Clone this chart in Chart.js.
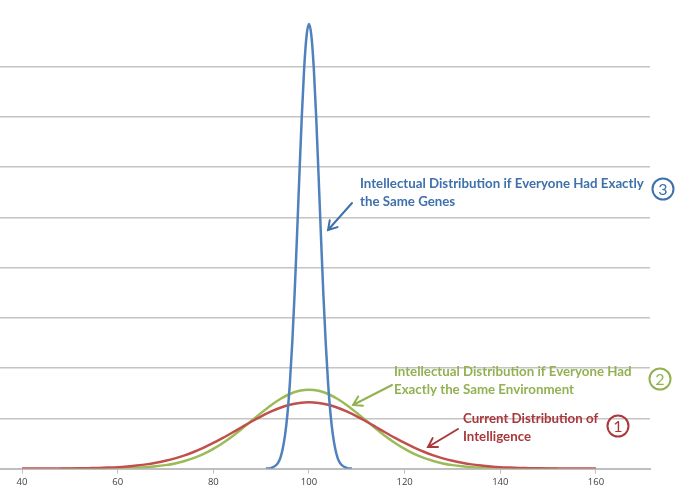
<!DOCTYPE html>
<html>
<head>
<meta charset="utf-8">
<script src="https://cdn.jsdelivr.net/npm/chart.js@4.4.1/dist/chart.umd.min.js"></script>
<style>
  html, body { margin: 0; padding: 0; background: #fff; }
</style>
</head>
<body>
<canvas id="iqChart" width="700" height="502"></canvas>
<script>
// IQ score positions and curve heights (one grid step = 1)
const xTicks = [40, 60, 80, 100, 120, 140, 160];

const currentX = [40, 42, 44, 46, 48, 50, 52, 54, 56, 58, 60, 62, 64, 66, 68, 70, 72, 74, 76, 78,
    80, 82, 84, 86, 88, 90, 92, 94, 96, 98, 100, 102, 104, 106, 108, 110, 112, 114, 116, 118,
    120, 122, 124, 126, 128, 130, 132, 134, 136, 138, 140, 142, 144, 146, 148, 150, 152, 154, 156, 158, 160];
const currentY = [0, 0, 0, 0.001, 0.002, 0.003, 0.005, 0.009, 0.013, 0.020, 0.029, 0.043, 0.061, 0.084,
    0.116, 0.155, 0.204, 0.264, 0.336, 0.418, 0.510, 0.611, 0.718, 0.828, 0.937, 1.041, 1.134, 1.212,
    1.271, 1.307, 1.320,
    1.307, 1.271, 1.212, 1.134, 1.041, 0.937, 0.828, 0.718, 0.611, 0.510, 0.418, 0.336, 0.264, 0.204,
    0.155, 0.116, 0.084, 0.061, 0.043, 0.029, 0.020, 0.013, 0.009, 0.005, 0.003, 0.002, 0.001, 0, 0, 0];

const envX = [48, 50, 52, 54, 56, 58, 60, 62, 64, 66, 68, 70, 72, 74, 76, 78, 80, 82, 84, 86, 88, 90,
    92, 94, 96, 98, 100, 102, 104, 106, 108, 110, 112, 114, 116, 118, 120, 122, 124, 126, 128, 130,
    132, 134, 136, 138, 140, 142, 144, 146, 148, 150, 152];
const envY = [0, 0, 0, 0.001, 0.002, 0.003, 0.006, 0.010, 0.017, 0.028, 0.045, 0.069, 0.103, 0.150,
    0.212, 0.292, 0.392, 0.510, 0.645, 0.795, 0.952, 1.109, 1.257, 1.386, 1.485, 1.548, 1.570,
    1.548, 1.485, 1.386, 1.257, 1.109, 0.952, 0.795, 0.645, 0.510, 0.392, 0.292, 0.212, 0.150,
    0.103, 0.069, 0.045, 0.028, 0.017, 0.010, 0.006, 0.003, 0.002, 0.001, 0, 0, 0];

const genesX = [91, 91.5, 92, 92.5, 93, 93.5, 94, 94.5, 95, 95.5, 96, 96.5, 97, 97.5, 98, 98.5, 99, 99.5,
    100, 100.5, 101, 101.5, 102, 102.5, 103, 103.5, 104, 104.5, 105, 105.5, 106, 106.5, 107, 107.5, 108, 108.5, 109];
const genesY = [0, 0, 0.01, 0.03, 0.06, 0.11, 0.21, 0.39, 0.67, 1.09, 1.69, 2.50, 3.49, 4.64, 5.85, 7.01, 7.98, 8.62,
    8.85, 8.62, 7.98, 7.01, 5.85, 4.64, 3.49, 2.50, 1.69, 1.09, 0.67, 0.39, 0.21, 0.11, 0.06, 0.03, 0.01, 0, 0];

function toPoints(xs, ys) {
    return xs.map(function (x, i) { return { x: x, y: ys[i] }; });
}

// ==== ANNOTATIONS (text, arrows, circled numbers) ====
const notes = [
    { color: '#3E70AC', lines: ['Intellectual Distribution if Everyone Had Exactly', 'the Same Genes'],
      x: 360, y: 188, num: '3', cx: 663, cy: 189, arrow: [352, 203, 328, 230] },
    { color: '#93B152', lines: ['Intellectual Distribution if Everyone Had', 'Exactly the Same Environment'],
      x: 394, y: 376, num: '2', cx: 660, cy: 379, arrow: [392, 385, 353, 405] },
    { color: '#A9383B', lines: ['Current Distribution of', 'Intelligence'],
      x: 463, y: 423, num: '1', cx: 618, cy: 426, arrow: [458, 429, 428, 447] }
];

const notePlugin = {
    id: 'notes',
    afterDatasetsDraw(chart) {
        const ctx = chart.ctx;
        ctx.save();
        // fit the font so the longest blue line spans ~284px like the original
        ctx.font = 'bold 12px Lato';
        const w = ctx.measureText(notes[0].lines[0]).width;
        const size = 12 * 284 / w;
        notes.forEach(function (n) {
            ctx.fillStyle = n.color;
            ctx.strokeStyle = n.color;
            ctx.font = 'bold ' + size.toFixed(2) + 'px Lato';
            ctx.textBaseline = 'alphabetic';
            ctx.textAlign = 'left';
            n.lines.forEach(function (t, i) {
                ctx.fillText(t, n.x, n.y + i * 17.5);
            });

            // circled number
            ctx.lineWidth = 2;
            ctx.beginPath();
            ctx.arc(n.cx, n.cy, 10.5, 0, Math.PI * 2);
            ctx.stroke();
            ctx.font = '16px Lato';
            ctx.textAlign = 'center';
            ctx.textBaseline = 'middle';
            ctx.fillText(n.num, n.cx, n.cy + 1);

            // arrow
            const a = n.arrow;
            const ang = Math.atan2(a[3] - a[1], a[2] - a[0]);
            ctx.lineWidth = 2;
            ctx.lineCap = 'round';
            ctx.beginPath();
            ctx.moveTo(a[0], a[1]);
            ctx.lineTo(a[2], a[3]);
            ctx.moveTo(a[2] - 10 * Math.cos(ang - 0.55), a[3] - 10 * Math.sin(ang - 0.55));
            ctx.lineTo(a[2], a[3]);
            ctx.lineTo(a[2] - 10 * Math.cos(ang + 0.55), a[3] - 10 * Math.sin(ang + 0.55));
            ctx.stroke();
        });
        ctx.restore();
    }
};

const ctxIq = document.getElementById('iqChart').getContext('2d');

new Chart(ctxIq, {
    type: 'line',
    data: {
        datasets: [
            {
                label: 'Same Genes',
                data: toPoints(genesX, genesY),
                borderColor: '#4F81BD',
                borderWidth: 2.5,
                pointRadius: 0,
                tension: 0.4,
                cubicInterpolationMode: 'monotone'
            },
            {
                label: 'Current',
                data: toPoints(currentX, currentY),
                borderColor: '#C0504D',
                borderWidth: 2.5,
                pointRadius: 0,
                tension: 0.4,
                cubicInterpolationMode: 'monotone'
            },
            {
                label: 'Same Environment',
                data: toPoints(envX, envY),
                borderColor: '#9BBB59',
                borderWidth: 2.5,
                pointRadius: 0,
                tension: 0.4,
                cubicInterpolationMode: 'monotone'
            }
        ]
    },
    options: {
        responsive: false,
        animation: false,
        devicePixelRatio: 1,
        layout: { padding: { left: 0, right: 50, top: 0, bottom: 11 } },
        plugins: {
            legend: { display: false },
            tooltip: { enabled: false }
        },
        scales: {
            x: {
                type: 'linear',
                min: 35.4,
                max: 171.3,
                afterBuildTicks: function (scale) {
                    scale.ticks = xTicks.map(function (v) { return { value: v }; });
                },
                grid: {
                    drawOnChartArea: false,
                    drawTicks: true,
                    tickLength: 5,
                    color: '#BFBFBF'
                },
                border: { color: '#BFBFBF', width: 2 },
                ticks: {
                    color: '#404040',
                    padding: 3,
                    maxRotation: 0,
                    font: { family: 'Open Sans', size: 9.5 }
                }
            },
            y: {
                min: 0,
                max: 9.327,
                ticks: { display: false, stepSize: 1 },
                border: { display: false },
                grid: {
                    drawTicks: false,
                    lineWidth: 1.5,
                    color: function (c) {
                        const v = c.tick.value;
                        return (v >= 1 && v <= 8) ? '#C4C4C4' : 'rgba(0,0,0,0)';
                    }
                }
            }
        }
    },
    plugins: [notePlugin]
});
</script>
</body>
</html>
